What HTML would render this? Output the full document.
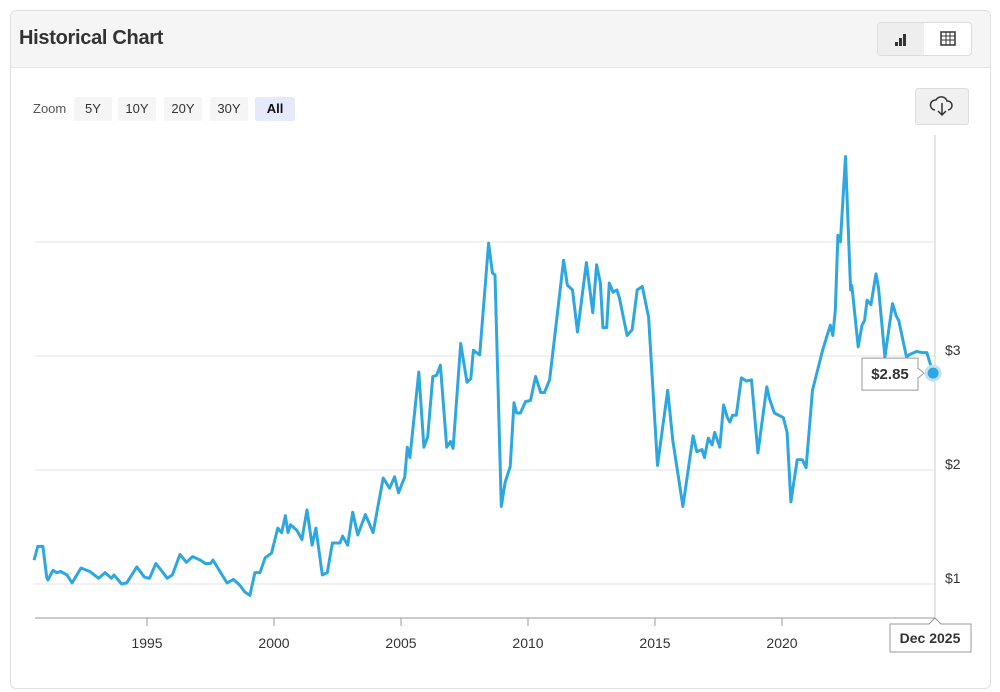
<!DOCTYPE html>
<html><head><meta charset="utf-8"><style>
body{margin:0;background:#fff;font-family:"Liberation Sans",Arial,sans-serif;}
.card{position:absolute;left:10px;top:10px;width:979px;height:677px;border:1px solid #e0e0e0;border-radius:6px;overflow:hidden;background:#fff}
.hdr{position:absolute;left:0;top:0;width:100%;height:56px;background:#f5f5f5;border-bottom:1px solid #e6e6e6}
.title{position:absolute;left:8px;top:16px;font-size:20px;font-weight:bold;color:#333;letter-spacing:-0.3px}
.tg{position:absolute;left:866px;top:11px;width:93px;height:32px;border:1px solid #ddd;border-radius:4px;background:#fff;overflow:hidden}
.tg div{position:absolute;top:0;height:32px;width:46px}
.zoom{position:absolute;top:88px;font-size:13px;color:#555}
.zb{position:absolute;top:86px;height:24px;line-height:24px;font-size:13px;color:#333;background:#f5f5f5;text-align:center;border-radius:2px}
</style></head><body>
<div class="card">
 <div class="hdr">
  <div class="title">Historical Chart</div>
  <div class="tg">
   <div style="left:0;background:#eee"><svg width="46" height="32"><rect x="17" y="19" width="3" height="4" fill="#333"/><rect x="21" y="15" width="3" height="8" fill="#333"/><rect x="25" y="11" width="3" height="12" fill="#333"/></svg></div>
   <div style="left:47px"><svg width="46" height="32"><rect x="16" y="9" width="14" height="13" fill="none" stroke="#333" stroke-width="1.5"/><path d="M16 13H30M16 17H30M21 9V22M25 9V22" stroke="#333" stroke-width="1"/></svg></div>
  </div>
 </div>
</div>
<div class="zoom" style="left:33px;top:101px">Zoom</div>
<div class="zb" style="left:74px;top:97px;width:38px">5Y</div>
<div class="zb" style="left:118px;top:97px;width:38px">10Y</div>
<div class="zb" style="left:164px;top:97px;width:38px">20Y</div>
<div class="zb" style="left:210px;top:97px;width:38px">30Y</div>
<div class="zb" style="left:255px;top:97px;width:40px;background:#e6e9fb;font-weight:bold;color:#111">All</div>
<div style="position:absolute;left:915px;top:88px;width:52px;height:35px;background:#f0f0f0;border:1px solid #ddd;border-radius:3px">
 <svg width="52" height="35"><path d="M19 21a5 5 0 0 1 1-10a6 6 0 0 1 11 1a4 4 0 0 1 1 9" fill="none" stroke="#333" stroke-width="1.5"/><path d="M26 14v12M22 22l4 4l4-4" fill="none" stroke="#333" stroke-width="1.5"/></svg>
</div>
<svg id="chart" width="1000" height="692" style="position:absolute;left:0;top:0"></svg>
<script>
const years=[1990.55,1990.7,1990.9,1991.05,1991.1,1991.3,1991.45,1991.6,1991.85,1992.05,1992.4,1992.75,1993.1,1993.35,1993.6,1993.7,1994.0,1994.2,1994.6,1994.9,1995.1,1995.35,1995.6,1995.8,1996.0,1996.3,1996.55,1996.8,1997.1,1997.3,1997.5,1997.6,1998.15,1998.4,1998.65,1998.85,1999.05,1999.25,1999.45,1999.65,1999.9,2000.15,2000.3,2000.45,2000.55,2000.65,2000.9,2001.1,2001.3,2001.5,2001.65,2001.9,2002.1,2002.3,2002.6,2002.7,2002.9,2003.1,2003.3,2003.6,2003.9,2004.3,2004.55,2004.75,2004.9,2005.15,2005.25,2005.35,2005.7,2005.9,2006.05,2006.25,2006.4,2006.55,2006.8,2006.95,2007.05,2007.35,2007.6,2007.75,2007.85,2008.1,2008.45,2008.6,2008.7,2008.95,2009.1,2009.3,2009.45,2009.55,2009.7,2009.9,2010.1,2010.3,2010.5,2010.65,2010.85,2011.05,2011.4,2011.55,2011.75,2011.95,2012.3,2012.55,2012.7,2012.85,2012.95,2013.1,2013.2,2013.35,2013.5,2013.6,2013.9,2014.1,2014.3,2014.5,2014.75,2015.1,2015.3,2015.5,2015.7,2016.1,2016.5,2016.65,2016.85,2016.95,2017.1,2017.25,2017.35,2017.55,2017.7,2017.85,2017.95,2018.05,2018.2,2018.4,2018.6,2018.8,2019.05,2019.4,2019.5,2019.7,2020.05,2020.2,2020.35,2020.6,2020.8,2020.95,2021.2,2021.6,2021.9,2022.0,2022.1,2022.2,2022.3,2022.5,2022.7,2022.75,2023.0,2023.15,2023.25,2023.35,2023.5,2023.7,2023.8,2024.05,2024.35,2024.5,2024.6,2024.9,2025.0,2025.3,2025.5,2025.7,2025.85,2025.95];
const prices=[1.21,1.33,1.33,1.06,1.035,1.12,1.10,1.11,1.08,1.01,1.14,1.11,1.05,1.10,1.05,1.08,1.0,1.01,1.15,1.06,1.05,1.18,1.11,1.05,1.08,1.26,1.19,1.24,1.21,1.18,1.18,1.21,1.01,1.04,0.99,0.93,0.9,1.10,1.10,1.23,1.27,1.49,1.45,1.6,1.45,1.52,1.47,1.39,1.65,1.34,1.49,1.08,1.10,1.36,1.36,1.42,1.34,1.63,1.43,1.61,1.45,1.93,1.84,1.94,1.80,1.94,2.2,2.11,2.86,2.2,2.29,2.82,2.83,2.92,2.2,2.25,2.19,3.11,2.77,2.80,3.05,3.01,3.99,3.73,3.71,1.68,1.89,2.03,2.59,2.5,2.5,2.6,2.61,2.82,2.68,2.68,2.79,3.17,3.84,3.62,3.58,3.21,3.82,3.38,3.80,3.64,3.25,3.25,3.64,3.56,3.58,3.51,3.18,3.23,3.58,3.61,3.34,2.04,2.37,2.70,2.26,1.68,2.30,2.16,2.18,2.11,2.28,2.22,2.33,2.2,2.57,2.46,2.42,2.48,2.48,2.81,2.78,2.79,2.15,2.73,2.63,2.5,2.46,2.33,1.72,2.09,2.09,2.02,2.70,3.05,3.27,3.18,3.40,4.06,4.0,4.75,3.58,3.62,3.08,3.27,3.31,3.49,3.45,3.72,3.60,2.99,3.46,3.35,3.31,2.99,3.01,3.04,3.03,3.03,2.92,2.85];
const yTicks=[1,2,3];
const xTicks=[1995,2000,2005,2010,2015,2020];
const NS='http://www.w3.org/2000/svg';
const svg=document.getElementById('chart');
const xs=t=>147+(t-1995)*25.4;
const ys=v=>584-(v-1)*114;
function mk(tag,attrs){const e=document.createElementNS(NS,tag);for(const k in attrs)e.setAttribute(k,attrs[k]);svg.appendChild(e);return e;}
[1,2,3,4].forEach(v=>{
 const g=mk('line',{x1:35,x2:935,y1:ys(v),y2:ys(v),stroke:'#e3e3e3','stroke-width':1});
 
 
});
yTicks.forEach(v=>{
 const t=mk('text',{x:945,y:ys(v)-1,'font-size':14,fill:'#333'});t.textContent='$'+v;
 
 
});
const ax=mk('line',{x1:35,x2:935,y1:618,y2:618,stroke:'#999','stroke-width':1});


const vl=mk('line',{x1:935,x2:935,y1:135,y2:618,stroke:'#ccc','stroke-width':1});


xTicks.forEach(y=>{
 const tk=mk('line',{x1:xs(y),x2:xs(y),y1:618,y2:626,stroke:'#999'});
 
 
 const t=mk('text',{x:xs(y),y:648,'font-size':14,fill:'#333','text-anchor':'middle'});t.textContent=y;
 
 
});
const d=years.map((t,i)=>(i?'L':'M')+xs(t).toFixed(1)+' '+ys(prices[i]).toFixed(1)).join(' ');
const ln=mk('path',{d:d,fill:'none',stroke:'#2ea7e0','stroke-width':3,'stroke-linejoin':'round'});


const lx=xs(years[years.length-1]),lyv=ys(prices[prices.length-1]);
const pt=mk('circle',{cx:lx,cy:lyv,r:7,fill:'#2ea7e0',stroke:'#bfe3f6','stroke-width':3});


const tip=mk('path',{d:`M862 ${lyv-15}H918V${lyv-5}L924 ${lyv}L918 ${lyv+5}V${lyv+17}H862Z`,fill:'#fff',stroke:'#999','stroke-width':1});


const tt=mk('text',{x:890,y:lyv+6,'font-size':15,'font-weight':'bold',fill:'#333','text-anchor':'middle'});tt.textContent='$'+prices[prices.length-1].toFixed(2);


const db=mk('path',{d:'M890 624H929L935 618L941 624H971V652H890Z',fill:'#fff',stroke:'#999','stroke-width':1});


const dt=mk('text',{x:930,y:643,'font-size':14,'font-weight':'bold',fill:'#333','text-anchor':'middle'});dt.textContent='Dec 2025';


</script>
</body></html>
